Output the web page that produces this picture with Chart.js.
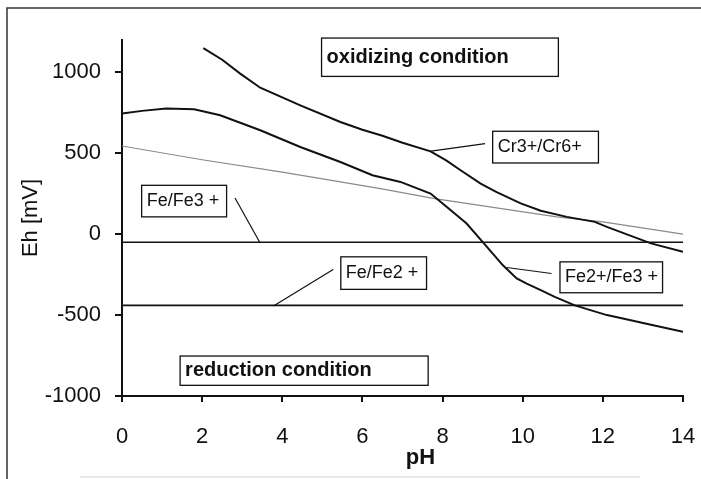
<!DOCTYPE html>
<html>
<head>
<meta charset="utf-8">
<script src="https://cdn.jsdelivr.net/npm/chart.js@4.4.1/dist/chart.umd.min.js"></script>
<style>
  html, body { margin: 0; padding: 0; background: #fff; }
  #wrap { width: 701px; height: 479px; }
</style>
</head>
<body>
<div id="wrap"><canvas id="ehChart" width="701" height="479"></canvas></div>
<script>
// values (pH, Eh in mV)
const crPH = [2.03, 2.5, 2.95, 3.45, 4.45, 5.45, 6.0, 6.5, 7.0, 7.7, 8.1, 8.45, 8.95, 9.35, 9.95, 10.45, 11.1, 11.8, 12.1, 13.2, 14.0];
const crEh = [1150, 1078, 992, 905, 796, 693, 645, 608, 565, 512, 455, 395, 313, 260, 190, 145, 107, 76, 45, -57, -109];

const fe23PH = [0, 0.5, 1.1, 1.8, 2.45, 3.45, 4.45, 5.45, 6.25, 6.95, 7.7, 8.1, 8.6, 9.02, 9.5, 9.85, 10.1, 10.45, 10.8, 11.3, 12.1, 12.5, 13.2, 14];
const fe23Eh = [745, 762, 776, 772, 735, 642, 539, 446, 364, 323, 251, 169, 66, -54, -191, -273, -305, -346, -387, -440, -500, -521, -560, -603];

const grayPH = [0, 2, 4, 5.45, 6.45, 7.8, 10.85, 12, 14];
const grayEh = [545, 460, 383, 323, 282, 220, 107, 76, 0];

const fe3PH = [0, 14];
const fe3Eh = [-50, -50];
const fe2PH = [0, 14];
const fe2Eh = [-440, -440];

const xTicks = [0, 2, 4, 6, 8, 10, 12, 14];
const yTicks = [-1000, -500, 0, 500, 1000];

const FONT = "'Liberation Sans', Arial, sans-serif";
const INK = "#111";

function pts(xs, ys) {
  return xs.map((x, i) => ({ x, y: ys[i] }));
}

// boxed labels and their pointer lines, in data units
const labelBoxes = [
  { text: "oxidizing condition", bold: true, size: 20, x1: 4.98, x2: 10.89, y1: 1212, y2: 975 },
  { text: "reduction condition", bold: true, size: 20, x1: 1.45, x2: 7.64, y1: -753, y2: -934 },
  { text: "Fe/Fe3 +", bold: false, size: 18, x1: 0.49, x2: 2.61, y1: 302, y2: 107 },
  { text: "Fe/Fe2 +", bold: false, size: 18, x1: 5.46, x2: 7.60, y1: -140, y2: -341 },
  { text: "Fe2+/Fe3 +", bold: false, size: 18, x1: 10.93, x2: 13.49, y1: -171, y2: -362 },
  { text: "Cr3+/Cr6+", bold: false, size: 18, x1: 9.25, x2: 11.89, y1: 636, y2: 440 }
];
const pointers = [
  [2.82, 224, 3.44, -51],
  [5.27, -218, 3.78, -444],
  [10.72, -243, 9.60, -206],
  [9.06, 560, 7.67, 512]
];

const decorations = {
  id: "decorations",
  beforeDraw(chart) {
    const ctx = chart.ctx;
    ctx.save();
    ctx.strokeStyle = "#333";
    ctx.lineWidth = 1.5;
    ctx.beginPath();
    ctx.moveTo(7, 479);
    ctx.lineTo(7, 8);
    ctx.lineTo(701, 8);
    ctx.stroke();
    ctx.strokeStyle = "#d4d4d4";
    ctx.lineWidth = 1;
    ctx.beginPath();
    ctx.moveTo(80, 477);
    ctx.lineTo(640, 477);
    ctx.stroke();
    ctx.restore();
  },
  afterDatasetsDraw(chart) {
    const ctx = chart.ctx;
    const xs = chart.scales.x, ys = chart.scales.y;
    ctx.save();
    ctx.strokeStyle = INK;
    ctx.lineWidth = 1.2;
    pointers.forEach(p => {
      ctx.beginPath();
      ctx.moveTo(xs.getPixelForValue(p[0]), ys.getPixelForValue(p[1]));
      ctx.lineTo(xs.getPixelForValue(p[2]), ys.getPixelForValue(p[3]));
      ctx.stroke();
    });
    labelBoxes.forEach(b => {
      const l = xs.getPixelForValue(b.x1), r = xs.getPixelForValue(b.x2);
      const t = ys.getPixelForValue(b.y1), bt = ys.getPixelForValue(b.y2);
      ctx.fillStyle = "#fff";
      ctx.fillRect(l, t, r - l, bt - t);
      ctx.lineWidth = 1.3;
      ctx.strokeRect(l, t, r - l, bt - t);
      ctx.fillStyle = INK;
      ctx.font = (b.bold ? "bold " : "") + b.size + "px " + FONT;
      ctx.textAlign = "left";
      ctx.textBaseline = "middle";
      ctx.fillText(b.text, l + 5, (t + bt) / 2);
    });
    // x axis title
    ctx.font = "bold 22px " + FONT;
    ctx.textAlign = "center";
    ctx.textBaseline = "alphabetic";
    ctx.fillText("pH", xs.getPixelForValue(7.45), 464);
    ctx.restore();
  }
};

new Chart(document.getElementById("ehChart"), {
  type: "scatter",
  data: {
    datasets: [
      { label: "Cr3+/Cr6+", data: pts(crPH, crEh), borderColor: INK, borderWidth: 2 },
      { label: "Fe2+/Fe3 +", data: pts(fe23PH, fe23Eh), borderColor: INK, borderWidth: 2 },
      { label: "gray", data: pts(grayPH, grayEh), borderColor: "#8a8a8a", borderWidth: 1.2 },
      { label: "Fe/Fe3 +", data: pts(fe3PH, fe3Eh), borderColor: INK, borderWidth: 1.6 },
      { label: "Fe/Fe2 +", data: pts(fe2PH, fe2Eh), borderColor: INK, borderWidth: 1.6 }
    ]
  },
  options: {
    responsive: false,
    animation: false,
    devicePixelRatio: 1,
    showLine: true,
    elements: { point: { radius: 0 }, line: { tension: 0 } },
    layout: { padding: { top: 40, right: 18, bottom: 0, left: 0 } },
    plugins: { legend: { display: false }, tooltip: { enabled: false } },
    scales: {
      x: {
        type: "linear",
        min: 0,
        max: 14,
        afterFit: s => { s.height = 83; s.paddingLeft = 12; s.paddingRight = 12; },
        afterBuildTicks: s => { s.ticks = xTicks.map(v => ({ value: v })); },
        border: { display: true, color: INK, width: 2 },
        grid: { display: true, drawOnChartArea: false, drawTicks: true, tickLength: 6, color: INK, lineWidth: 2 },
        ticks: { color: INK, padding: 22, font: { family: FONT, size: 22 }, callback: v => String(v) }
      },
      y: {
        type: "linear",
        min: -1000,
        max: 1200,
        afterFit: s => { s.width = 122; },
        afterBuildTicks: s => { s.ticks = yTicks.map(v => ({ value: v })); },
        border: { display: true, color: INK, width: 2 },
        grid: { display: true, drawOnChartArea: false, drawTicks: true, tickLength: 7, color: INK, lineWidth: 2 },
        ticks: { color: INK, padding: 14, font: { family: FONT, size: 22 }, callback: v => String(v) },
        title: { display: true, text: "Eh [mV]", color: INK, font: { family: FONT, size: 22 }, padding: { top: 18, bottom: 0 } }
      }
    }
  },
  plugins: [decorations]
});
</script>
</body>
</html>
